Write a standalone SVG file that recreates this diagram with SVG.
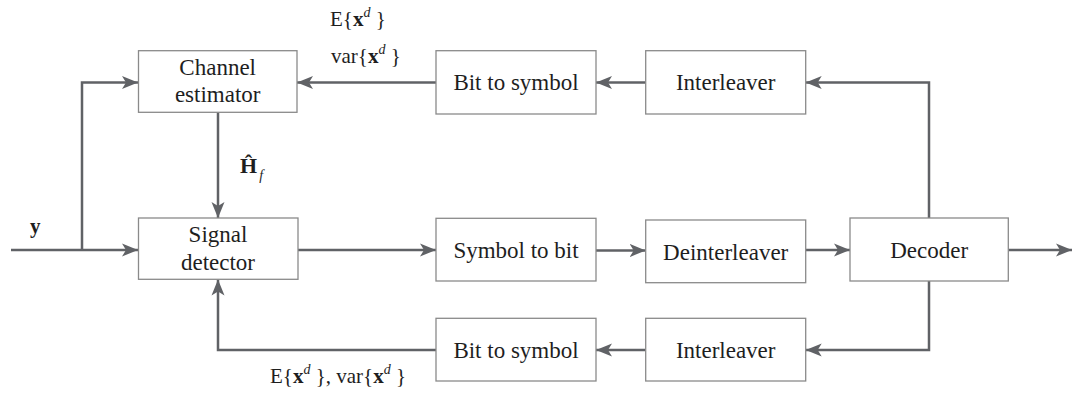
<svg xmlns="http://www.w3.org/2000/svg" width="1072" height="393" viewBox="0 0 1072 393">
<style>
.box{fill:#fff;stroke:#8a8a8a;stroke-width:1.3}
.lbl{font-family:"Liberation Serif","Times New Roman",serif;font-size:23px;fill:#1e1e1e;text-anchor:middle}
.math{font-family:"Liberation Serif","Times New Roman",serif;font-size:21px;fill:#1e1e1e}
.b{font-weight:bold}
.sup{font-style:italic;font-size:14px}
.conn path{fill:none;stroke:#606266;stroke-width:2.5;marker-end:url(#ah)}
</style>
<defs>
<marker id="ah" markerUnits="userSpaceOnUse" markerWidth="18" markerHeight="15" refX="16" refY="7" orient="auto" viewBox="0 0 18 15">
<path d="M16,7 L0,0.5 L4,7 L0,13.5 Z" fill="#606266"/>
</marker>
</defs>
<g id="connectors" class="conn">
<path d="M11,250 H138"/>
<path d="M82,250 V82.5 H138"/>
<path d="M436,82.5 H297"/>
<path d="M645.7,82.5 H596"/>
<path d="M929,218 V82.5 H805.7"/>
<path d="M218,112.3 V218"/>
<path d="M298,250 H436"/>
<path d="M596,250.5 H645.7"/>
<path d="M805.7,250 H850"/>
<path d="M1008.3,250 H1072"/>
<path d="M929,281 V350 H805.7"/>
<path d="M645.7,350 H596"/>
<path d="M436,350 H218 V279.5"/>
</g>
<g id="channel-estimator">
<rect class="box" x="138.5" y="50.7" width="158.5" height="61.6"/>
<text class="lbl" x="217.7" y="75">Channel</text>
<text class="lbl" x="217.7" y="102.3">estimator</text>
</g>
<g id="signal-detector">
<rect class="box" x="138.5" y="218" width="159.5" height="61.3"/>
<text class="lbl" x="218" y="242.3">Signal</text>
<text class="lbl" x="218" y="270">detector</text>
</g>
<g id="bit-to-symbol-top">
<rect class="box" x="436" y="50.7" width="160" height="63.3"/>
<text class="lbl" x="516" y="90">Bit to symbol</text>
</g>
<g id="interleaver-top">
<rect class="box" x="645.7" y="50.7" width="160" height="63.3"/>
<text class="lbl" x="725.7" y="90">Interleaver</text>
</g>
<g id="symbol-to-bit">
<rect class="box" x="436" y="218.3" width="160" height="62.7"/>
<text class="lbl" x="516" y="258.3">Symbol to bit</text>
</g>
<g id="deinterleaver">
<rect class="box" x="645.7" y="220" width="160" height="62.7"/>
<text class="lbl" x="725.7" y="259.5">Deinterleaver</text>
</g>
<g id="decoder">
<rect class="box" x="850" y="218" width="158.3" height="63"/>
<text class="lbl" x="929.2" y="258">Decoder</text>
</g>
<g id="bit-to-symbol-bottom">
<rect class="box" x="436" y="318.3" width="160" height="62.7"/>
<text class="lbl" x="516" y="358">Bit to symbol</text>
</g>
<g id="interleaver-bottom">
<rect class="box" x="645.7" y="318.3" width="160" height="62.7"/>
<text class="lbl" x="725.7" y="358">Interleaver</text>
</g>
<g id="labels">
<text class="math b" x="30" y="233">y</text>
<text class="math" x="330" y="26">E{<tspan class="b">x</tspan><tspan class="sup" dy="-9">d</tspan><tspan dy="9"> }</tspan></text>
<text class="math" x="331" y="63">var{<tspan class="b">x</tspan><tspan class="sup" dy="-9">d</tspan><tspan dy="9"> }</tspan></text>
<text class="math b" x="240" y="173" style="font-size:22px">Ĥ<tspan class="sup" style="font-weight:normal" dx="2" dy="7">f</tspan></text>
<text class="math" x="270" y="383">E{<tspan class="b">x</tspan><tspan class="sup" dy="-9">d</tspan><tspan dy="9"> }, var{</tspan><tspan class="b">x</tspan><tspan class="sup" dy="-9">d</tspan><tspan dy="9"> }</tspan></text>
</g>
</svg>
